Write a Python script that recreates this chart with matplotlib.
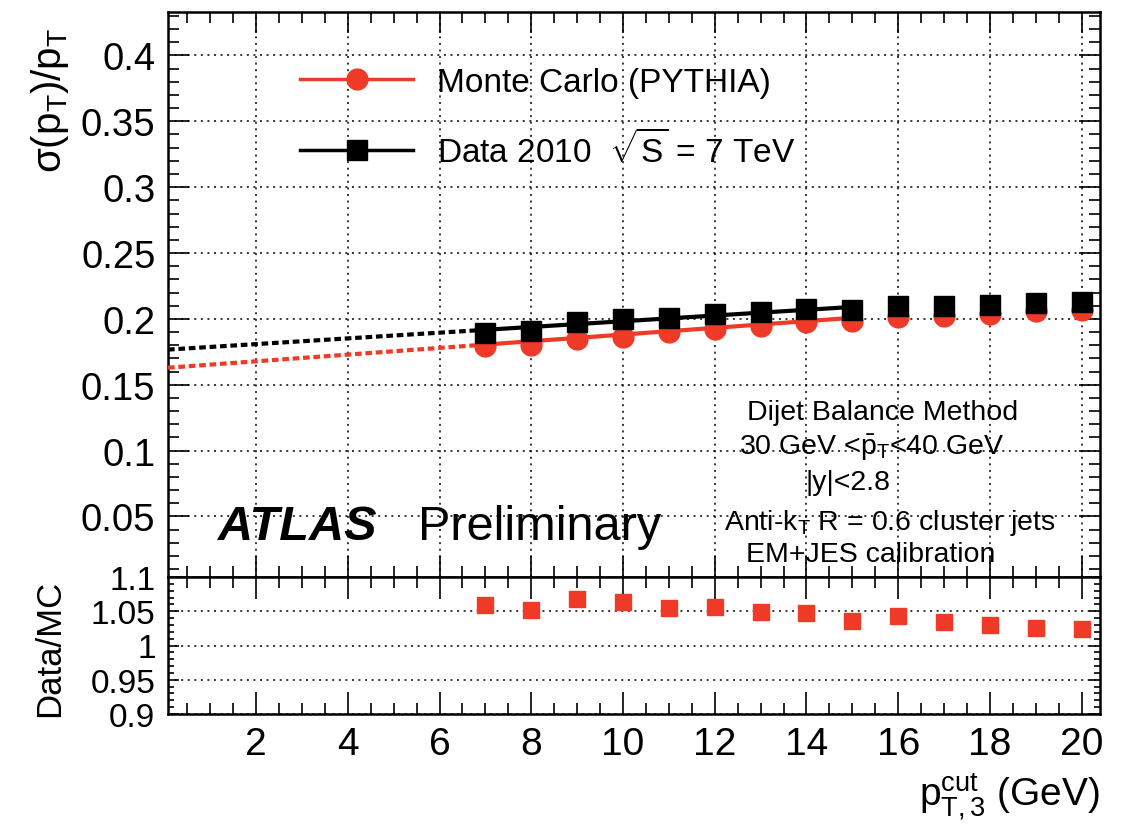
import numpy as np
import matplotlib.pyplot as plt
from matplotlib.lines import Line2D
from matplotlib.ticker import MultipleLocator, FuncFormatter

plt.rcParams['font.family'] = ['Liberation Sans', 'DejaVu Sans']
plt.rcParams['mathtext.fontset'] = 'custom'
plt.rcParams['mathtext.rm'] = 'Liberation Sans'
plt.rcParams['mathtext.it'] = 'Liberation Sans:italic'

# values
pt_cut = [7, 8, 9, 10, 11, 12, 13, 14, 15, 16, 17, 18, 19, 20]
mc_res = [0.1797, 0.1800, 0.1848, 0.1860, 0.1900, 0.1924, 0.1949, 0.1975, 0.1987,
          0.2013, 0.2025, 0.2038, 0.2056, 0.2071]
data_res = [0.1894, 0.1906, 0.1975, 0.2000, 0.2005, 0.2038, 0.2051, 0.2076, 0.2071,
            0.2101, 0.2101, 0.2106, 0.2122, 0.2127]
ratio = [1.059, 1.0515, 1.068, 1.064, 1.055, 1.0565, 1.049, 1.048, 1.036,
         1.043, 1.035, 1.030, 1.025, 1.024]
# linear fits (intercept, slope), fitted over 7-15 GeV, extrapolated to 0
mc_fit = (0.1627, 0.00254)
data_fit = (0.1765, 0.00217)
fit_lo, fit_hi = 7, 15

RED = '#ee3a26'
x0, x1 = 0.08, 20.4

fig = plt.figure(figsize=(11.24, 8.28), dpi=100)
W, H = 1124, 828
ax = fig.add_axes([168/W, 1-578/H, 932/W, 565/H])
rx = fig.add_axes([168/W, 1-715/H, 932/W, 137/H])

ext = np.array([x0, fit_lo]); sol = np.array([fit_lo, fit_hi])
for (b, m), c in [(mc_fit, RED), (data_fit, 'k')]:
    ax.plot(ext, b + m*ext, color=c, lw=3, ls=(0, (1.6, 0.9)), zorder=3)
    ax.plot(sol, b + m*sol, color=c, lw=3, zorder=3)
ax.plot(pt_cut, mc_res, 'o', color=RED, ms=15, mec=RED, zorder=4)
ax.plot(pt_cut, data_res, 's', color='k', ms=15, zorder=5)

rx.plot(pt_cut, ratio, 's', color=RED, ms=11, zorder=4)

def fmt(v, p):
    return '%g' % round(v, 3)

grid_ls = (0, (1.3, 3))
for a in (ax, rx):
    a.set_xlim(x0, x1)
    a.xaxis.set_major_locator(MultipleLocator(2))
    a.xaxis.set_minor_locator(MultipleLocator(0.5))
    a.tick_params(which='both', direction='in', top=True, right=True, width=1.2)
    a.yaxis.set_major_formatter(FuncFormatter(fmt))
    for s in a.spines.values():
        s.set_linewidth(1.8)

ax.set_ylim(0.004, 0.433)
ax.yaxis.set_major_locator(MultipleLocator(0.05))
ax.yaxis.set_minor_locator(MultipleLocator(0.01))
ax.tick_params(which='major', length=15, labelsize=27.5, pad=9)
ax.tick_params(which='minor', length=8)
ax.tick_params(axis='x', labelbottom=False)
ax.grid(which='major', color='k', lw=1.1, ls=grid_ls)

rx.set_ylim(0.9, 1.1)
rx.yaxis.set_major_locator(MultipleLocator(0.05))
rx.yaxis.set_minor_locator(MultipleLocator(0.01))
rx.tick_params(axis='x', which='major', length=16, labelsize=28, pad=9)
rx.tick_params(axis='x', which='minor', length=8)
rx.tick_params(axis='y', which='major', length=8, labelsize=24, pad=9)
rx.tick_params(axis='y', which='minor', length=4)
rx.grid(axis='y', which='major', color='k', lw=1.1, ls=grid_ls)

fig.text(50/W, 1-28/H, r'$\mathregular{\sigma(p_{T})/p_{T}}$', rotation=90,
         ha='center', va='top', fontsize=29)
fig.text(50/W, 1-580/H, 'Data/MC', rotation=90, ha='center', va='top', fontsize=25)
fig.text(1100/W, 1-806/H, r'$\mathregular{p_{T,3}^{cut}}$ (GeV)', ha='right',
         va='baseline', fontsize=28)

handles = [Line2D([], [], color=RED, lw=2.5, marker='o', ms=15),
           Line2D([], [], color='k', lw=2.5, marker='s', ms=15)]
labels = ['Monte Carlo (PYTHIA)', r'Data 2010  $\mathregular{\sqrt{S}}$ = 7 TeV']
ax.legend(handles, labels, loc='upper left', bbox_to_anchor=(0.1416, 0.903),
          frameon=False, fontsize=24, handlelength=3.4, handletextpad=0.7,
          labelspacing=0.95, borderpad=0, borderaxespad=0)

ax.text(0.0536, 0.0673, 'ATLAS', transform=ax.transAxes, fontsize=35,
        weight='bold', style='italic', va='baseline')
ax.text(0.268, 0.0673, 'Preliminary', transform=ax.transAxes, fontsize=35,
        va='baseline')

info = [('Dijet Balance Method', 0.767, 0.2796),
        (r'30 GeV <$\mathregular{\bar{p}_{T}}$<40 GeV', 0.755, 0.2177),
        ('|y|<2.8', 0.730, 0.1558),
        (r'Anti-$\mathregular{k_{T}}$ R = 0.6 cluster jets', 0.775, 0.085),
        ('EM+JES calibration', 0.754, 0.0283)]
for s, tx, ty in info:
    ax.text(tx, ty, s, transform=ax.transAxes, fontsize=20.5, ha='center',
            va='baseline')

fig.savefig('out.png', dpi=100)
